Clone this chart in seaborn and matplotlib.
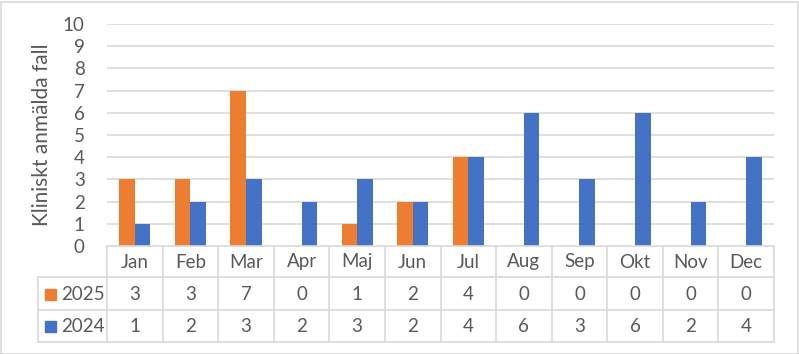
import matplotlib
matplotlib.use("Agg")
import matplotlib.pyplot as plt
import seaborn as sns
import pandas as pd
from matplotlib.patches import Rectangle

months = ["Jan", "Feb", "Mar", "Apr", "Maj", "Jun", "Jul", "Aug", "Sep", "Okt", "Nov", "Dec"]
series_names = ["2025", "2024"]
vals_2025 = [3, 3, 7, 0, 1, 2, 4, 0, 0, 0, 0, 0]
vals_2024 = [1, 2, 3, 2, 3, 2, 4, 6, 3, 6, 2, 4]
y_ticks = list(range(0, 11))
y_label = "Kliniskt anmälda fall"

colors = {"2025": "#ED7D31", "2024": "#4472C4"}
text_color = "#595959"
grid_color = "#D9D9D9"
fs = 13.5

sns.set_style("white")
plt.rcParams["font.family"] = ["Lato", "DejaVu Sans"]

df = pd.DataFrame({
    "Månad": months * 2,
    "År": ["2025"] * len(months) + ["2024"] * len(months),
    "Fall": vals_2025 + vals_2024,
})

W, H = 799, 354
fig = plt.figure(figsize=(W / 100, H / 100), dpi=100)
L, R, T, B = 107, 774, 24, 246
ax = fig.add_axes([L / W, 1 - B / H, (R - L) / W, (B - T) / H])

sns.barplot(data=df, x="Månad", y="Fall", hue="År", hue_order=series_names,
            order=months, palette=colors, width=0.56, ax=ax, legend=False,
            saturation=1, edgecolor="none", linewidth=0)

ax.set_ylim(0, 10)
ax.set_xlim(-0.5, len(months) - 0.5)
ax.set_yticks(y_ticks)
ax.set_yticklabels([str(t) for t in y_ticks], fontsize=fs, color=text_color)
ax.tick_params(axis="y", length=0, pad=16)
ax.tick_params(axis="x", length=0, labelbottom=False)
ax.set_xlabel("")
ax.set_ylabel(y_label, fontsize=15, color=text_color)
ax.yaxis.set_label_coords(-(L - 52) / (R - L), 0.5)
for t in y_ticks[1:]:
    ax.axhline(t, color=grid_color, lw=1.2, zorder=0)
for s in ["top", "right", "left"]:
    ax.spines[s].set_visible(False)
ax.spines["bottom"].set_color(grid_color)
ax.spines["bottom"].set_linewidth(1.2)

def fx(px):
    return px / W

def fy(py):
    return 1 - py / H

line_kw = dict(color=grid_color, lw=1.2, transform=fig.transFigure, zorder=5)
left_col = 38
for yy in [277, 310, 342]:
    fig.add_artist(plt.Line2D([fx(left_col), fx(R)], [fy(yy), fy(yy)], **line_kw))
fig.add_artist(plt.Line2D([fx(left_col), fx(left_col)], [fy(277), fy(342)], **line_kw))
xt = ax.get_xaxis_transform()
for i in range(len(months) + 1):
    ax.plot([i - 0.5, i - 0.5], [0, -(342 - B) / (B - T)], transform=xt,
            color=grid_color, lw=1.2, clip_on=False, zorder=5)

def ay(py):
    return -(py - B) / (B - T)

for i, m in enumerate(months):
    ax.text(i, ay(262), m, transform=xt, ha="center", va="center",
            fontsize=fs, color=text_color)
    ax.text(i, ay(294), str(vals_2025[i]), transform=xt, ha="center", va="center",
            fontsize=fs, color=text_color)
    ax.text(i, ay(326), str(vals_2024[i]), transform=xt, ha="center", va="center",
            fontsize=fs, color=text_color)

for name, cy in zip(series_names, [294, 326]):
    fig.patches.append(Rectangle((fx(45), fy(cy + 5.5)), 11 / W, 11 / H,
                                 transform=fig.transFigure, color=colors[name], zorder=6))
    fig.text(fx(61), fy(cy), name, ha="left", va="center", fontsize=fs, color=text_color)

fig.patches.append(Rectangle((0.5 / W, 0.5 / H), (W - 2) / W, (H - 2.5) / H,
                             transform=fig.transFigure, fill=False,
                             edgecolor="#D9D9D9", lw=1.2))

fig.savefig("out.png", dpi=100)
